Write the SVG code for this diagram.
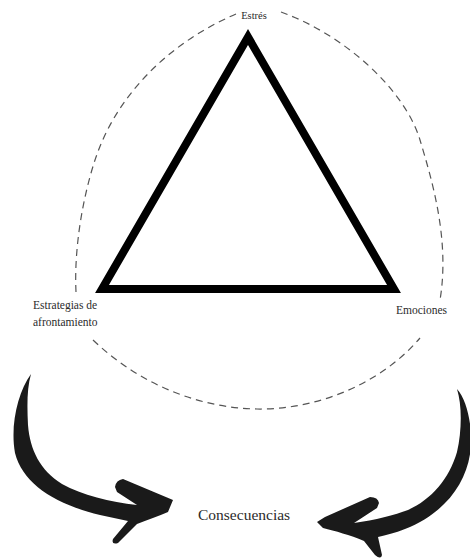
<svg xmlns="http://www.w3.org/2000/svg" width="470" height="559" viewBox="0 0 470 559">
  <style>
    .lbl { font-family: "Liberation Serif", "Times New Roman", serif; fill: #2b2b2b; }
    .dash { fill: none; stroke: #555; stroke-width: 1.2; stroke-dasharray: 7 5; }
    .arrow { fill: #1a1a1a; stroke: none; }
  </style>
  <rect width="470" height="559" fill="#fff"/>
  <g id="cycle">
    <path class="dash" d="M236,14 C175,40 118,90 95,160 C82,200 74,250 76,292"/>
    <path class="dash" d="M93,340 C140,385 200,408 257,409 C315,410 380,385 420,338"/>
    <path class="dash" d="M281,12 C345,35 405,90 420,140 C432,180 450,240 440,300"/>
  </g>
  <g id="triangle">
    <polygon points="248,37 102,289 394,289" fill="none" stroke="#000" stroke-width="8" stroke-linejoin="miter"/>
  </g>
  <g id="node-estres">
    <text class="lbl" x="254" y="19" font-size="10.5" text-anchor="middle">Estrés</text>
  </g>
  <g id="node-estrategias">
    <text class="lbl" x="33" y="309" font-size="11.5">Estrategias de</text>
    <text class="lbl" x="33" y="326" font-size="11.5">afrontamiento</text>
  </g>
  <g id="node-emociones">
    <text class="lbl" x="396" y="314" font-size="11.5">Emociones</text>
  </g>
  <g id="node-consecuencias">
    <text class="lbl" x="198" y="520" font-size="15.5">Consecuencias</text>
  </g>
  <g id="connectors">
    <path class="arrow" d="M31,374 C18,392 10,425 15,453 C23,484 55,504 100,515 L128,521 L113,539 Q111,545 118,543 L137,524 C147,520 159,516 168,512 L173,500 L123,479 Q116,480 115,487 L117,492 L137,505 C110,502 82,495 62,484 C40,470 30,450 28,425 C27,405 27,388 31,374 Z"/>
    <path class="arrow" d="M457,389 C467,400 472,425 471,445 C469,481 446,513 405,529 C395,533 386,535 378,537 L382,555 Q381,560 375,555 L364,541 C350,535 335,531 323,528 L317,522 L325,517 L370,497 Q378,497 379,503 L377,508 L354,523 C375,520 395,515 408,510 C432,499 449,479 457,452 C462,430 462,405 457,389 Z"/>
  </g>
</svg>
